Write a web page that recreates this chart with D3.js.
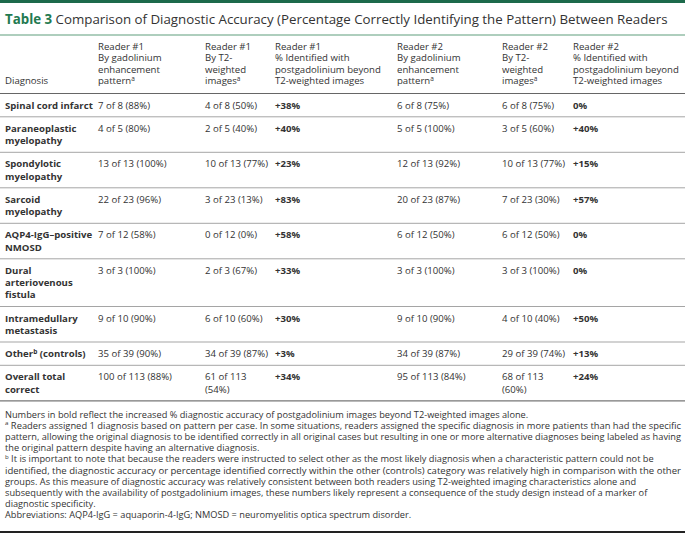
<!DOCTYPE html>
<html>
<head>
<meta charset="utf-8">
<script src="https://cdn.jsdelivr.net/npm/d3@7"></script>
<style>
  body { margin: 0; background: #fff; }
  svg { display: block; font-family: "Open Sans", sans-serif; }
</style>
</head>
<body>
<svg id="chart" width="685" height="533"></svg>
<script>
// table content
const diagnoses = ["Spinal cord infarct", "Paraneoplastic myelopathy", "Spondylotic myelopathy", "Sarcoid myelopathy",
  "AQP4-IgG–positive NMOSD", "Dural arteriovenous fistula", "Intramedullary metastasis", "Other^b (controls)", "Overall total correct"];
const reader1Gad = ["7 of 8 (88%)", "4 of 5 (80%)", "13 of 13 (100%)", "22 of 23 (96%)", "7 of 12 (58%)", "3 of 3 (100%)", "9 of 10 (90%)", "35 of 39 (90%)", "100 of 113 (88%)"];
const reader1T2 = ["4 of 8 (50%)", "2 of 5 (40%)", "10 of 13 (77%)", "3 of 23 (13%)", "0 of 12 (0%)", "2 of 3 (67%)", "6 of 10 (60%)", "34 of 39 (87%)", "61 of 113 (54%)"];
const reader1Gain = ["+38%", "+40%", "+23%", "+83%", "+58%", "+33%", "+30%", "+3%", "+34%"];
const reader2Gad = ["6 of 8 (75%)", "5 of 5 (100%)", "12 of 13 (92%)", "20 of 23 (87%)", "6 of 12 (50%)", "3 of 3 (100%)", "9 of 10 (90%)", "34 of 39 (87%)", "95 of 113 (84%)"];
const reader2T2 = ["6 of 8 (75%)", "3 of 5 (60%)", "10 of 13 (77%)", "7 of 23 (30%)", "6 of 12 (50%)", "3 of 3 (100%)", "4 of 10 (40%)", "29 of 39 (74%)", "68 of 113 (60%)"];
const reader2Gain = ["0%", "+40%", "+15%", "+57%", "0%", "0%", "+50%", "+13%", "+24%"];

const headers = [
  ["Diagnosis"],
  ["Reader #1", "By gadolinium", "enhancement", "pattern^a"],
  ["Reader #1", "By T2-", "weighted", "images^a"],
  ["Reader #1", "% Identified with", "postgadolinium beyond", "T2-weighted images"],
  ["Reader #2", "By gadolinium", "enhancement", "pattern^a"],
  ["Reader #2", "By T2-", "weighted", "images^a"],
  ["Reader #2", "% Identified with", "postgadolinium beyond", "T2-weighted images"]
];

const titleLabel = "Table 3";
const titleText = "Comparison of Diagnostic Accuracy (Percentage Correctly Identifying the Pattern) Between Readers";

const footnotes = [
  "Numbers in bold reflect the increased % diagnostic accuracy of postgadolinium images beyond T2-weighted images alone.",
  "^a Readers assigned 1 diagnosis based on pattern per case. In some situations, readers assigned the specific diagnosis in more patients than had the specific",
  "pattern, allowing the original diagnosis to be identified correctly in all original cases but resulting in one or more alternative diagnoses being labeled as having",
  "the original pattern despite having an alternative diagnosis.",
  "^b It is important to note that because the readers were instructed to select other as the most likely diagnosis when a characteristic pattern could not be",
  "identified, the diagnostic accuracy or percentage identified correctly within the other (controls) category was relatively high in comparison with the other",
  "groups. As this measure of diagnostic accuracy was relatively consistent between both readers using T2-weighted imaging characteristics alone and",
  "subsequently with the availability of postgadolinium images, these numbers likely represent a consequence of the study design instead of a marker of",
  "diagnostic specificity.",
  "Abbreviations: AQP4-IgG = aquaporin-4-IgG; NMOSD = neuromyelitis optica spectrum disorder."
];
const fullNoteLines = [1, 2, 5]; // lines that run to the right edge

const columns = [diagnoses, reader1Gad, reader1T2, reader1Gain, reader2Gad, reader2T2, reader2Gain];
const colKeys = d3.range(columns.length);
const boldCols = [0, 3, 6];

const svg = d3.select("#chart");
const width = +svg.attr("width");
const ink = "#333";
const fontSize = 9.6;

const x = d3.scaleOrdinal().domain(colKeys).range([5, 98, 205, 275, 397, 502, 573]);
const wrapWidth = d3.scaleOrdinal().domain(colKeys).range([93, 95, 66, 110, 100, 66, 110]);

// hidden text used to measure words for wrapping
const measurer = svg.append("text").attr("font-size", fontSize).attr("visibility", "hidden");
function textWidth(str, bold, size) {
  measurer.attr("font-size", size || fontSize).attr("font-weight", bold ? "bold" : "normal")
    .text(str.replace(/\^[a-z]/g, "b"));
  return measurer.node().getComputedTextLength();
}
function wrap(str, maxW, bold) {
  const words = str.split(" ");
  const lines = [];
  let line = words[0];
  for (let i = 1; i < words.length; i++) {
    const test = line + " " + words[i];
    if (textWidth(test, bold) > maxW) { lines.push(line); line = words[i]; }
    else line = test;
  }
  lines.push(line);
  return lines;
}

// writes a string into a text element, turning ^x into a superscript
function fillText(sel, str, supSize) {
  const parts = str.split(/\^([a-z])/);
  parts.forEach((p, i) => {
    if (p === "") return;
    if (i % 2 === 1) {
      sel.append("tspan").attr("font-size", supSize).attr("dy", -3.5).text(p);
    } else {
      sel.append("tspan").attr("dy", i > 0 ? 3.5 : 0).text(p);
    }
  });
}

// top bar + title
svg.append("rect").attr("x", 0).attr("y", 0).attr("width", width).attr("height", 3).attr("fill", "#1d6a4b");
const title = svg.append("text").attr("x", 5).attr("y", 24).attr("font-size", 13.3).attr("fill", ink);
title.append("tspan").attr("font-weight", "bold").attr("fill", "#237a50").text(titleLabel);
title.append("tspan").text(" " + titleText);
svg.append("line").attr("x1", 0).attr("x2", width).attr("y1", 35).attr("y2", 35)
  .attr("stroke", "#5f9d7c").attr("stroke-width", 1.2);

// header
const headLine = 11.5, headTop = 46, baseOff = 3.5;
headers.forEach((lines, c) => {
  const offset = 4 - lines.length; // bottom aligned
  lines.forEach((l, i) => {
    const t = svg.append("text").attr("x", x(c)).attr("y", headTop + (i + offset) * headLine + baseOff)
      .attr("font-size", fontSize).attr("fill", ink);
    fillText(t, l, 6.5);
  });
});
svg.append("line").attr("x1", 0).attr("x2", width).attr("y1", 93.5).attr("y2", 93.5)
  .attr("stroke", "#666").attr("stroke-width", 1.2);

// body rows
const rowPad = 23.3, lineH = 12.2;
let rowTop = 93.5;
diagnoses.forEach((d, r) => {
  const cells = columns.map((col, c) => wrap(col[r], wrapWidth(c), boldCols.includes(c)));
  const n = d3.max(cells, cl => cl.length);
  cells.forEach((lines, c) => {
    lines.forEach((l, i) => {
      const t = svg.append("text").attr("x", x(c)).attr("y", rowTop + 11.5 + i * lineH + baseOff)
        .attr("font-size", fontSize).attr("fill", ink)
        .attr("font-weight", boldCols.includes(c) ? "bold" : "normal");
      fillText(t, l, 6.5);
    });
  });
  rowTop += rowPad + (n - 1) * lineH;
  const last = r === diagnoses.length - 1;
  svg.append("line").attr("x1", 0).attr("x2", width).attr("y1", rowTop).attr("y2", rowTop)
    .attr("stroke", last ? "#777" : "#a5a5a5").attr("stroke-width", last ? 1.3 : 1);
});

// footnotes, set in a condensed face
const noteTop = rowTop + 13.5, noteLine = 11.2;
const noteSize = 9.1;
const squeeze = 676 / textWidth(footnotes[2], false, noteSize);
footnotes.forEach((f, i) => {
  const natural = textWidth(f, false, noteSize);
  const target = fullNoteLines.includes(i) ? 676 : natural * squeeze;
  const t = svg.append("text").attr("x", 5).attr("y", noteTop + i * noteLine + 3.2)
    .attr("font-size", noteSize).attr("fill", ink)
    .attr("textLength", target).attr("lengthAdjust", "spacingAndGlyphs");
  fillText(t, f, 6);
});
svg.append("line").attr("x1", 0).attr("x2", width).attr("y1", 532).attr("y2", 532)
  .attr("stroke", "#222").attr("stroke-width", 2);
measurer.remove();
</script>
</body>
</html>
